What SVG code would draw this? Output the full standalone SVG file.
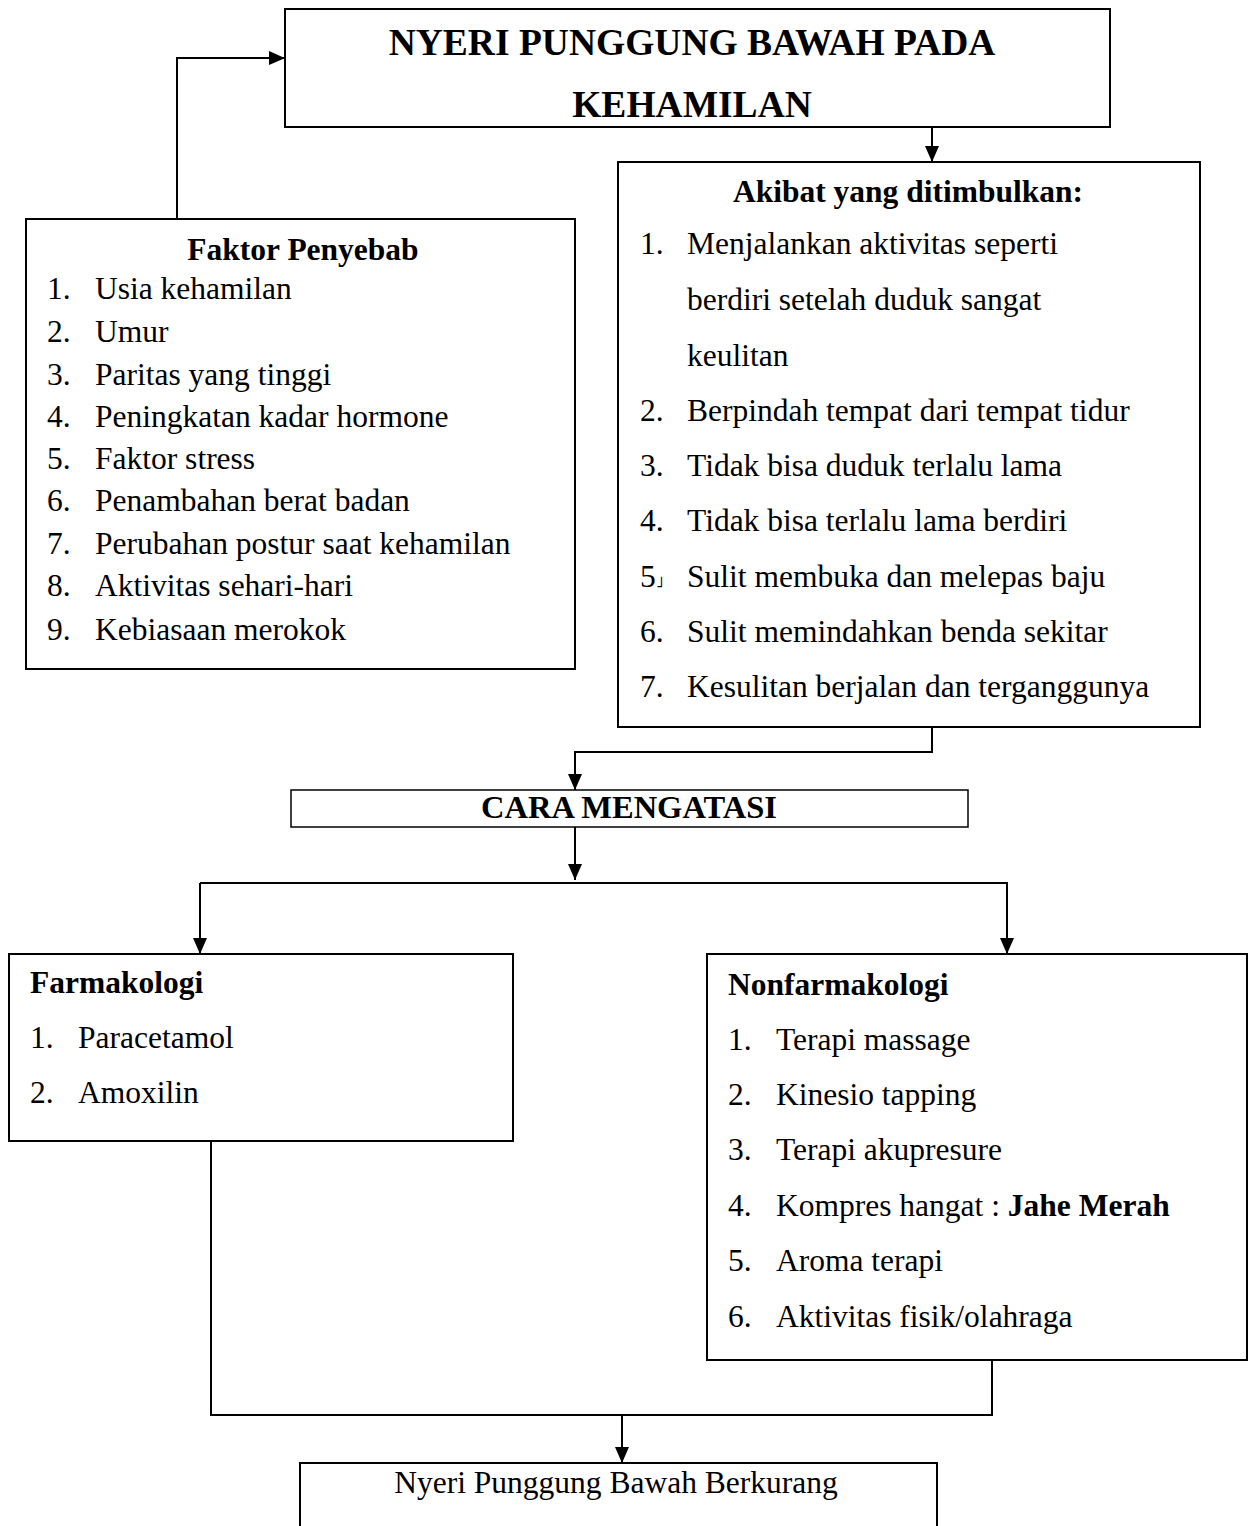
<svg xmlns="http://www.w3.org/2000/svg" width="1248" height="1526" viewBox="0 0 1248 1526">
<defs>
<marker id="ah" markerWidth="14" markerHeight="16" refX="16" refY="7" orient="auto" markerUnits="userSpaceOnUse">
<path d="M0,0 L16,7 L0,14 Z" fill="#000"/>
</marker>
<style>
.box{fill:#fff;stroke:#000;stroke-width:2}
.ln{fill:none;stroke:#000;stroke-width:2}
text{font-family:"Liberation Serif","Times New Roman",serif;fill:#000;font-size:31.5px}
.b{font-weight:bold}
.t{font-size:37.5px;font-weight:bold}
.c{text-anchor:middle}
</style>
</defs>
<rect width="1248" height="1526" fill="#fff"/>
<g id="connectors">
<path class="ln" d="M177,219 V58 H285" marker-end="url(#ah)"/>
<path class="ln" d="M932,127 V162" marker-end="url(#ah)"/>
<path class="ln" d="M932,727 V752 H575 V790" marker-end="url(#ah)"/>
<path class="ln" d="M575,827 V880" marker-end="url(#ah)"/>
<path class="ln" d="M200,883 H1007 V954" marker-end="url(#ah)"/>
<path class="ln" d="M200,883 V954" marker-end="url(#ah)"/>
<path class="ln" d="M211,1141 V1415 H992 V1360"/>
<path class="ln" d="M622,1415 V1463" marker-end="url(#ah)"/>
</g>
<g id="node-top">
<rect class="box" x="285" y="9" width="825" height="118"/>
<text class="t c" x="692" y="55">NYERI PUNGGUNG BAWAH PADA</text>
<text class="t c" x="692" y="117">KEHAMILAN</text>
</g>
<g id="node-faktor">
<rect class="box" x="26" y="219" width="549" height="450"/>
<text class="b c" x="303" y="260">Faktor Penyebab</text>
<text x="47" y="299">1.</text><text x="95" y="299">Usia kehamilan</text>
<text x="47" y="342">2.</text><text x="95" y="342">Umur</text>
<text x="47" y="385">3.</text><text x="95" y="385">Paritas yang tinggi</text>
<text x="47" y="427">4.</text><text x="95" y="427">Peningkatan kadar hormone</text>
<text x="47" y="469">5.</text><text x="95" y="469">Faktor stress</text>
<text x="47" y="511">6.</text><text x="95" y="511">Penambahan berat badan</text>
<text x="47" y="554">7.</text><text x="95" y="554">Perubahan postur saat kehamilan</text>
<text x="47" y="596">8.</text><text x="95" y="596">Aktivitas sehari-hari</text>
<text x="47" y="640">9.</text><text x="95" y="640">Kebiasaan merokok</text>
</g>
<g id="node-akibat">
<rect class="box" x="618" y="162" width="582" height="565"/>
<text class="b c" x="908" y="202">Akibat yang ditimbulkan:</text>
<text x="640" y="254">1.</text><text x="687" y="254">Menjalankan aktivitas seperti</text>
<text x="687" y="310">berdiri setelah duduk sangat</text>
<text x="687" y="366">keulitan</text>
<text x="640" y="421">2.</text><text x="687" y="421">Berpindah tempat dari tempat tidur</text>
<text x="640" y="476">3.</text><text x="687" y="476">Tidak bisa duduk terlalu lama</text>
<text x="640" y="531">4.</text><text x="687" y="531">Tidak bisa terlalu lama berdiri</text>
<text x="640" y="587">5<tspan style="font-size:16px;font-family:'DejaVu Sans',sans-serif">˩</tspan></text><text x="687" y="587">Sulit membuka dan melepas baju</text>
<text x="640" y="642">6.</text><text x="687" y="642">Sulit memindahkan benda sekitar</text>
<text x="640" y="697">7.</text><text x="687" y="697">Kesulitan berjalan dan terganggunya</text>
</g>
<g id="node-cara">
<rect class="box" x="291" y="790" width="677" height="37" style="stroke-width:1.5"/>
<text class="b c" x="629" y="818" style="font-size:32.5px">CARA MENGATASI</text>
</g>
<g id="node-farmakologi">
<rect class="box" x="9" y="954" width="504" height="187"/>
<text class="b" x="30" y="993">Farmakologi</text>
<text x="30" y="1048">1.</text><text x="78" y="1048">Paracetamol</text>
<text x="30" y="1103">2.</text><text x="78" y="1103">Amoxilin</text>
</g>
<g id="node-nonfarmakologi">
<rect class="box" x="707" y="954" width="540" height="406"/>
<text class="b" x="728" y="995">Nonfarmakologi</text>
<text x="728" y="1050">1.</text><text x="776" y="1050">Terapi massage</text>
<text x="728" y="1105">2.</text><text x="776" y="1105">Kinesio tapping</text>
<text x="728" y="1160">3.</text><text x="776" y="1160">Terapi akupresure</text>
<text x="728" y="1216">4.</text><text x="776" y="1216">Kompres hangat : <tspan class="b">Jahe Merah</tspan></text>
<text x="728" y="1271">5.</text><text x="776" y="1271">Aroma terapi</text>
<text x="728" y="1327">6.</text><text x="776" y="1327">Aktivitas fisik/olahraga</text>
</g>
<g id="node-hasil">
<path class="box" d="M300,1527 V1463 H937 V1527"/>
<text class="c" x="616" y="1493">Nyeri Punggung Bawah Berkurang</text>
</g>
</svg>
